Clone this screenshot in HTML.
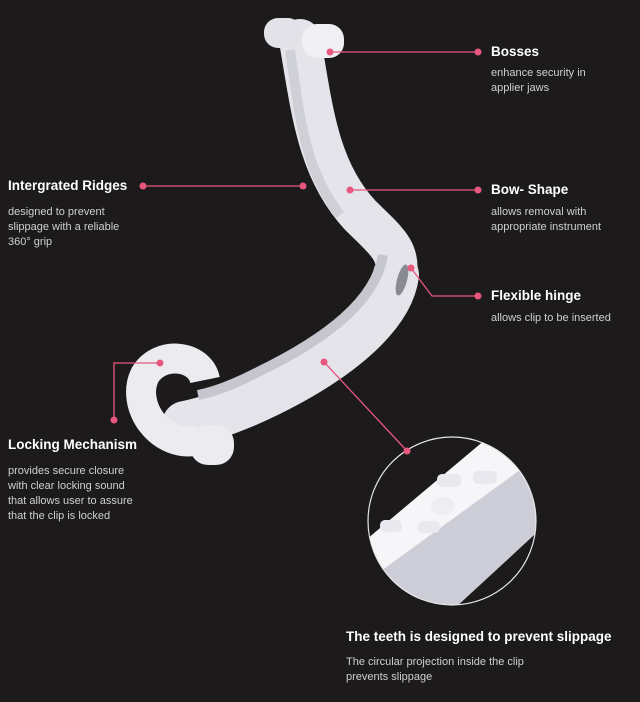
<!DOCTYPE html>
<html><head><meta charset="utf-8"><style>
html,body{margin:0;padding:0;background:#1d1a1c;}
body{width:640px;height:702px;position:relative;overflow:hidden;font-family:"Liberation Sans",sans-serif;}
.t{position:absolute;color:#fff;font-weight:bold;font-size:13.5px;white-space:nowrap;}
.s{position:absolute;color:#cfcfd2;font-size:11px;line-height:15px;}
svg{position:absolute;left:0;top:0;}
</style></head><body>
<svg width="640" height="702" viewBox="0 0 640 702">
<defs>
<clipPath id="c"><circle cx="452" cy="521" r="84"/></clipPath>
</defs>
<!-- clip body -->
<path d="M300 40 C312 110 318 170 360 215 C385 240 400 250 396 275" fill="none" stroke="#e4e4ea" stroke-width="42" stroke-linecap="round"/>
<path d="M396 275 C390 320 330 365 260 398 C230 412 205 420 185 424" fill="none" stroke="#e4e4ea" stroke-width="46" stroke-linecap="round"/>
<path d="M290 50 C300 120 305 170 340 215" fill="none" stroke="#cfcfd6" stroke-width="10"/>
<path d="M383 255 C376 300 328 338 258 372 C233 385 213 392 198 395" fill="none" stroke="#c6c6ce" stroke-width="10"/>
<ellipse cx="402" cy="280" rx="5" ry="16" fill="#8a8a92" transform="rotate(15 402 280)"/>
<!-- hook -->
<path d="M205 380 C200 355 160 350 145 375 C130 405 160 450 200 440" fill="none" stroke="#ececf0" stroke-width="30"/>
<!-- bosses -->
<rect x="264" y="18" width="38" height="30" rx="14" fill="#e2e2e8"/>
<rect x="302" y="24" width="42" height="34" rx="15" fill="#f0f0f4"/>
<rect x="190" y="425" width="44" height="40" rx="18" fill="#ececf0"/>
<!-- magnified circle -->
<g clip-path="url(#c)">
<polygon points="360,545 485,440 560,440 560,525 455,610 360,610" fill="#cdcdd8"/>
<polygon points="360,545 485,440 560,440 560,455 520,470 385,568 360,575" fill="#f6f6f8"/>
<polygon points="545,525 455,608 560,608 560,525" fill="#1d1a1c"/>
<rect x="380" y="520" width="22" height="12" rx="5" fill="#e8e8ee"/>
<rect x="418" y="521" width="22" height="12" rx="5" fill="#e8e8ee"/>
<ellipse cx="443" cy="506" rx="12" ry="9" fill="#ededf2"/>
<rect x="437" y="474" width="24" height="13" rx="5" fill="#e8e8ee"/>
<rect x="473" y="471" width="24" height="13" rx="5" fill="#e8e8ee"/>
</g>
<circle cx="452" cy="521" r="84" fill="none" stroke="#e6e6e6" stroke-width="1.2"/>
<!-- connectors -->
<g stroke="#e8577e" stroke-width="1.3" fill="none">
<line x1="330" y1="52" x2="478" y2="52"/>
<line x1="350" y1="190" x2="478" y2="190"/>
<polyline points="411,268 432,296 478,296"/>
<line x1="143" y1="186" x2="303" y2="186"/>
<polyline points="114,420 114,363 160,363"/>
<line x1="324" y1="362" x2="407" y2="451"/>
</g>
<g fill="#e8577e">
<circle cx="330" cy="52" r="3.5"/><circle cx="478" cy="52" r="3.5"/>
<circle cx="350" cy="190" r="3.5"/><circle cx="478" cy="190" r="3.5"/>
<circle cx="411" cy="268" r="3.5"/><circle cx="478" cy="296" r="3.5"/>
<circle cx="143" cy="186" r="3.5"/><circle cx="303" cy="186" r="3.5"/>
<circle cx="114" cy="420" r="3.5"/><circle cx="160" cy="363" r="3.5"/>
<circle cx="324" cy="362" r="3.5"/><circle cx="407" cy="451" r="3.5"/>
</g>
</svg>
<div class="t" style="left:491px;top:44px">Bosses</div>
<div class="s" style="left:491px;top:66px">enhance security in<br>applier jaws</div>
<div class="t" style="left:491px;top:182px">Bow- Shape</div>
<div class="s" style="left:491px;top:205px">allows removal with<br>appropriate instrument</div>
<div class="t" style="left:491px;top:288px">Flexible hinge</div>
<div class="s" style="left:491px;top:311px">allows clip to be inserted</div>
<div class="t" style="left:8px;top:178px">Intergrated Ridges</div>
<div class="s" style="left:8px;top:205px">designed to prevent<br>slippage with a reliable<br>360° grip</div>
<div class="t" style="left:8px;top:437px">Locking Mechanism</div>
<div class="s" style="left:8px;top:464px">provides secure closure<br>with clear locking sound<br>that allows user to assure<br>that the clip is locked</div>
<div class="t" style="left:346px;top:629px">The teeth is designed to prevent slippage</div>
<div class="s" style="left:346px;top:655px">The circular projection inside the clip<br>prevents slippage</div>
</body></html>
